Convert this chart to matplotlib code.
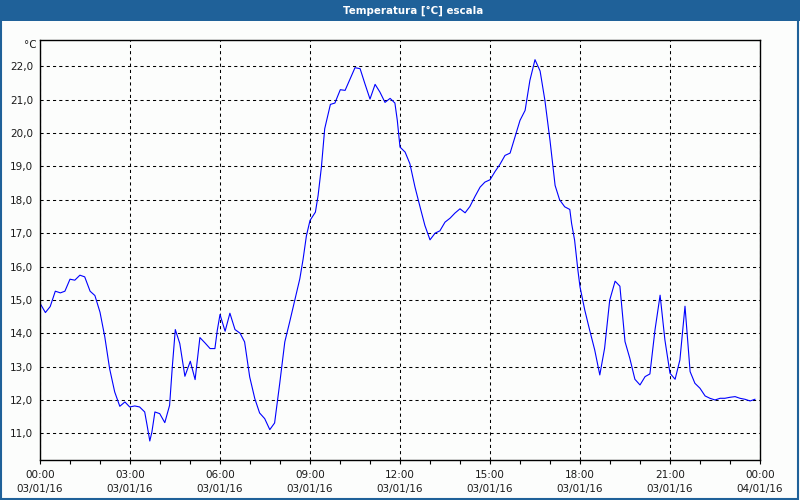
import matplotlib
matplotlib.use("Agg")
import matplotlib.pyplot as plt
from matplotlib.patches import Rectangle
from matplotlib.ticker import MultipleLocator, FuncFormatter

# hours since 00:00 03/01/16
hours = [0.0, 0.18, 0.34, 0.51, 0.68, 0.83, 1.0, 1.16, 1.33, 1.49, 1.67, 1.83,
         2.0, 2.16, 2.32, 2.49, 2.66, 2.83, 2.99, 3.16, 3.32, 3.49, 3.57, 3.66,
         3.73, 3.83, 3.99, 4.16, 4.32, 4.41, 4.51, 4.66, 4.83, 5.01, 5.17, 5.33,
         5.5, 5.67, 5.83, 5.91, 6.0, 6.17, 6.33, 6.5, 6.67, 6.82, 6.99, 7.16,
         7.32, 7.49, 7.66, 7.82, 7.99, 8.16, 8.32, 8.49, 8.66, 8.77, 8.88, 9.0,
         9.18, 9.27, 9.38, 9.49, 9.68, 9.83, 10.01, 10.17, 10.34, 10.5, 10.67,
         10.83, 11.0, 11.17, 11.33, 11.5, 11.67, 11.83, 11.91, 12.0, 12.17,
         12.33, 12.5, 12.67, 12.83, 13.0, 13.17, 13.33, 13.5, 13.67, 13.83,
         14.0, 14.17, 14.33, 14.5, 14.67, 14.83, 15.0, 15.17, 15.33, 15.5,
         15.67, 15.83, 16.0, 16.17, 16.33, 16.5, 16.67, 16.83, 17.0, 17.17,
         17.32, 17.49, 17.66, 17.72, 17.82, 17.93, 18.0, 18.16, 18.32, 18.49,
         18.66, 18.82, 18.99, 19.17, 19.33, 19.5, 19.66, 19.83, 20.0, 20.17,
         20.33, 20.5, 20.67, 20.83, 21.0, 21.17, 21.33, 21.5, 21.67, 21.83,
         22.0, 22.17, 22.33, 22.5, 22.67, 22.83, 23.0, 23.17, 23.33, 23.5,
         23.67, 23.83]
temp = [14.9, 14.62, 14.8, 15.26, 15.21, 15.26, 15.62, 15.59, 15.74, 15.69,
        15.26, 15.13, 14.63, 13.89, 12.94, 12.24, 11.81, 11.94, 11.79, 11.82,
        11.79, 11.64, 11.24, 10.77, 11.04, 11.64, 11.59, 11.32, 11.84, 12.99,
        14.11, 13.69, 12.71, 13.16, 12.61, 13.87, 13.71, 13.54, 13.54, 14.09,
        14.56, 14.06, 14.6, 14.11, 14.0, 13.74, 12.69, 12.04, 11.61, 11.44,
        11.11, 11.31, 12.49, 13.74, 14.33, 14.98, 15.63, 16.22, 16.92, 17.38,
        17.63, 18.13, 18.98, 20.13, 20.86, 20.9, 21.3, 21.28, 21.63, 21.96,
        21.93, 21.48, 21.02, 21.46, 21.23, 20.92, 21.04, 20.9, 20.38, 19.58,
        19.43, 19.08, 18.38, 17.78, 17.23, 16.8, 17.0, 17.07, 17.33, 17.45,
        17.6, 17.73, 17.61, 17.8, 18.1, 18.38, 18.53, 18.6, 18.85, 19.06,
        19.33, 19.4, 19.88, 20.38, 20.68, 21.58, 22.2, 21.86, 20.98, 19.78,
        18.43, 18.0, 17.79, 17.71, 17.29, 16.79, 15.89, 15.39, 14.69, 14.1,
        13.5, 12.75, 13.55, 14.99, 15.56, 15.41, 13.75, 13.25, 12.62, 12.45,
        12.7, 12.78, 14.1, 15.14, 13.8, 12.8, 12.62, 13.2, 14.81, 12.85, 12.5,
        12.35, 12.12, 12.05, 12.0, 12.05, 12.05, 12.08, 12.1, 12.05, 12.02,
        11.97, 12.02]

tick_labels = ["00:00\n03/01/16", "03:00\n03/01/16", "06:00\n03/01/16",
               "09:00\n03/01/16", "12:00\n03/01/16", "15:00\n03/01/16",
               "18:00\n03/01/16", "21:00\n03/01/16", "00:00\n04/01/16"]

bar_blue = "#1f6199"
txt = "#1a1a1a"

fig = plt.figure(figsize=(8, 5), dpi=100)
fig.patch.set_facecolor("#fcfdfc")

# title bar + window border
fig.patches.append(Rectangle((0, 0.958), 1, 0.042, transform=fig.transFigure,
                             facecolor=bar_blue, edgecolor="none", zorder=0))
fig.patches.append(Rectangle((0.001, 0.002), 0.997, 0.996, transform=fig.transFigure,
                             facecolor="none", edgecolor=bar_blue, linewidth=1.5))
fig.text(0.516, 0.979, "Temperatura [°C] escala", color="white", fontsize=7.4,
         fontweight="bold", ha="center", va="center", family="DejaVu Sans")

ax = fig.add_axes([0.05, 0.08, 0.90, 0.84])
ax.set_facecolor("#fcfdfc")
ax.plot(hours, temp, color="#0000ff", linewidth=0.8)

ax.set_xlim(0, 24)
ax.set_ylim(10.2, 22.79)
ax.set_xticks(range(0, 25, 3))
ax.set_xticklabels(tick_labels, linespacing=1.55)
ax.xaxis.set_minor_locator(MultipleLocator(1))
ax.set_yticks(range(11, 23))
ax.yaxis.set_major_formatter(FuncFormatter(lambda v, p: f"{v:.1f}".replace(".", ",")))

ax.tick_params(axis="x", which="both", direction="out", length=3, width=0.8,
               labelsize=7.5, labelcolor=txt, pad=4)
ax.tick_params(axis="y", length=0, labelsize=7.5, labelcolor=txt, pad=5)
ax.grid(True, which="major", color="black", linestyle=(0, (3, 3)), linewidth=0.75)
for s in ax.spines.values():
    s.set_linewidth(1.0)

ax.text(-0.005, 1.0, "°C", transform=ax.transAxes, ha="right", va="top",
        fontsize=7.5, color=txt)

fig.savefig("out.png", dpi=100, facecolor=fig.get_facecolor())
